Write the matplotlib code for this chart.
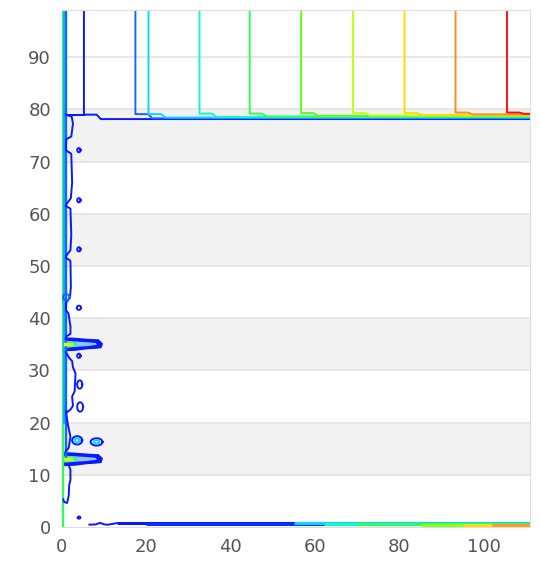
import matplotlib.pyplot as plt
import numpy as np

# contour levels crossing the top region (x position of vertical part, colour)
top_x = [5.2, 17.4, 20.5, 32.6, 44.5, 56.7, 69.0, 81.2, 93.3, 105.5]
top_knee = [79.0, 79.1, 79.1, 79.2, 79.2, 79.3, 79.3, 79.3, 79.4, 79.4]
top_flat = [78.15, 78.3, 78.45, 78.55, 78.65, 78.75, 78.85, 78.95, 79.05, 79.15]
top_colors = ['#0a18ff', '#1466ff', '#10d4ff', '#10ffb8', '#2cff5a', '#5cff10',
              '#c4ff18', '#ffdc00', '#ff8c20', '#ff1010']

# bottom band: start x, y, colour (later ones lie on top)
bot_x0 = [13, 20, 55, 62, 70, 85, 95, 102]
bot_y = [0.75, 0.55, 0.8, 0.65, 0.5, 0.45, 0.35, 0.3]
bot_colors = ['#0a18ff', '#0a30ff', '#10d4ff', '#10ffb8', '#2cff5a', '#8cff10',
              '#ffdc00', '#ff9c20']
bot_lead_x = [6.5, 8, 9, 10, 11, 13]
bot_lead_y = [0.45, 0.5, 0.8, 0.5, 0.45, 0.75]

# left edge lines
edge_x = [0.15, 0.5, 0.85]
edge_y0 = [0, 20, 13]
edge_colors = ['#2cff5a', '#10b4ff', '#1466ff']

# blue wavy contour along the left edge
wave_x = [0.9, 2.3, 2.6, 2.2, 1.0, 0.9, 2.2, 2.4, 2.1, 1.0, 0.9, 2.0, 2.2, 2.0,
          1.0, 0.9, 2.0, 2.1, 1.9, 1.0, 0.9, 1.5, 2.0, 2.0, 1.0, 0.9, 0.9]
wave_y = [79.0, 78.6, 77.3, 74.8, 74.3, 72.2, 71.5, 66, 63, 61.8, 61.5, 61.0, 56,
          53, 52.0, 51.6, 51.0, 46, 44, 43.0, 41.5, 41.0, 38.5, 37, 36.5, 36.2, 36]
wave2_x = [0.9, 1.8, 2.4, 2.6, 3.2, 3.0, 2.4, 2.6, 2.0, 1.2, 0.9, 1.4, 2.0, 1.6, 0.9]
wave2_y = [33.5, 32.3, 31.8, 30.6, 29.4, 26, 25, 23.2, 22.5, 22.0, 22.3, 19.6,
           17.3, 15.2, 14.5]
low_x = [1.5, 2.0, 2.0, 1.7, 1.6, 1.2, 0.5, 0.3]
low_y = [12.0, 11.0, 9.0, 8.0, 6.0, 4.6, 4.8, 5.3]

# small closed blobs: centre x, centre y, half width, half height, colour
blob_cx = [4.0, 4.0, 4.0, 4.0, 4.0, 4.2, 4.3, 3.6, 8.2, 3.6, 8.2, 4.0, 1.0]
blob_cy = [72.2, 62.6, 53.2, 42.0, 32.8, 27.3, 23.0, 16.6, 16.3, 16.6, 16.3, 1.8, 44.0]
blob_w = [0.4, 0.4, 0.4, 0.5, 0.4, 0.6, 0.7, 1.2, 1.4, 0.6, 0.6, 0.3, 0.8]
blob_h = [0.4, 0.4, 0.4, 0.4, 0.4, 0.8, 0.9, 0.8, 0.7, 0.35, 0.35, 0.2, 0.6]
blob_colors = ['#0a18ff'] * 9 + ['#10d4ff', '#10d4ff', '#0a18ff', '#1466ff']

# hot spots: outline polygon relative to centre y, inner streak, core
hot_y = [35.0, 13.0]
hot_outer_x = [0.2, 3.0, 6.0, 8.6, 9.5, 9.2, 8.0, 6.0, 3.0, 0.2]
hot_outer_dy = [1.2, 1.1, 0.9, 0.8, 0.1, -0.6, -0.7, -0.8, -1.1, -1.2]
hot_inner_x = [0.3, 3.0, 6.0, 8.0, 8.3, 6.0, 3.0, 0.3]
hot_inner_dy = [0.6, 0.55, 0.4, 0.25, -0.1, -0.35, -0.5, -0.6]
hot_core_x = [0.3, 1.5, 3.0, 3.8, 3.0, 1.5, 0.3]
hot_core_dy = [0.6, 0.65, 0.45, 0.0, -0.45, -0.65, -0.6]

fig = plt.figure(figsize=(5.41, 5.69), dpi=100)
ax = fig.add_axes([0.1146, 0.0738, 0.8654, 0.9082])
ax.set_xlim(0, 111)
ax.set_ylim(0, 99)

for y0 in [10, 30, 50, 70]:
    ax.axhspan(y0, y0 + 10, color='#f2f2f2', zorder=0, lw=0)
for y in range(10, 100, 10):
    ax.axhline(y, color='#e3e3e3', lw=1.2, zorder=0.5)

lw = 1.4
for x, k, f, c in zip(top_x, top_knee, top_flat, top_colors):
    ax.plot([x, x, x + 3, x + 4, 111], [99, k, k, f, f], color=c, lw=lw)
ax.plot([0.9, 5.2], [78.9, 78.9], color=top_colors[0], lw=lw)

for x0, y, c in zip(bot_x0, bot_y, bot_colors):
    ax.plot([x0, 111], [y, y], color=c, lw=lw + 0.8, solid_capstyle='butt')
ax.plot(bot_lead_x, bot_lead_y, color=bot_colors[0], lw=lw)

for x, y0, c in zip(edge_x, edge_y0, edge_colors):
    ax.plot([x, x], [y0, 99], color=c, lw=lw + 0.3)

ax.plot(wave_x, wave_y, color='#0a18ff', lw=lw)
ax.plot(wave2_x, wave2_y, color='#0a18ff', lw=lw)
ax.plot(low_x, low_y, color='#0a18ff', lw=lw)

t = np.linspace(0, 2 * np.pi, 40)
for cx, cy, w, h, c in zip(blob_cx, blob_cy, blob_w, blob_h, blob_colors):
    ax.plot(cx + w * np.cos(t), cy + h * np.sin(t), color=c, lw=lw)

for yc in hot_y:
    ax.fill(hot_outer_x, yc + np.array(hot_outer_dy), color='#0a18ff', lw=1.2,
            ec='#0a18ff')
    ax.fill(hot_inner_x, yc + np.array(hot_inner_dy), color='#8fc4ff', lw=0)
    ax.fill(hot_core_x, yc + np.array(hot_core_dy), color='#2cff80', lw=0)
    ax.plot([0.8, 2.2], [yc, yc], color='#d8ff30', lw=2.5)

for s in ['top', 'right', 'bottom']:
    ax.spines[s].set_color('#dddddd')
ax.spines['left'].set_visible(False)
ax.set_xticks([0, 20, 40, 60, 80, 100])
ax.set_yticks(range(0, 100, 10))
ax.tick_params(length=0, labelsize=13, colors='#555555', pad=8)

fig.savefig('out.png', dpi=100)
